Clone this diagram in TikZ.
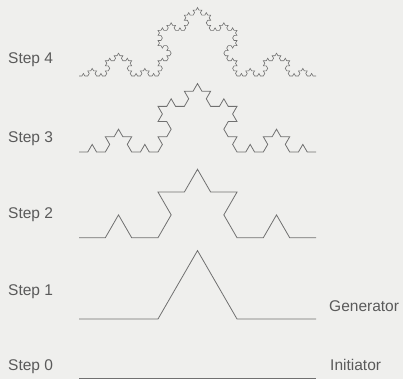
\documentclass[tikz,border=0pt]{standalone}
\usepackage{fontspec}
\setmainfont{Liberation Sans}
\usetikzlibrary{lindenmayersystems}
\pgfdeclarelindenmayersystem{kochcurve}{\rule{F -> F+F--F+F}}
\definecolor{bgc}{HTML}{EFEFED}
\definecolor{linec}{HTML}{707070}
\definecolor{textc}{HTML}{5A5A5A}
\tikzset{
  kochline/.style={draw=linec, line width=0.8pt, line join=miter},
  steplabel/.style={anchor=base west, inner sep=0pt, text=textc, font=\fontsize{15.5}{18}\selectfont}
}
\begin{document}
\begin{tikzpicture}[x=1pt,y=1pt]
\fill[bgc] (0,0) rectangle (403,379);
\useasboundingbox (0,0) rectangle (403,379);
% labels
\node[steplabel] (s4) at (8,315.7) {Step 4};
\node[steplabel] (s3) at (8,236.3) {Step 3};
\node[steplabel] (s2) at (8,160.7) {Step 2};
\node[steplabel] (s1) at (8,83) {Step 1};
\node[steplabel] (s0) at (8,9) {Step 0};
\node[steplabel] (gen) at (329,67.3) {Generator};
\node[steplabel] (ini) at (330,9) {Initiator};
% step 0
\coordinate (a0) at (79,1);
\coordinate (b0) at (316,1);
\draw[kochline] (a0) -- (b0);
% step 1
\begin{scope}[shift={(79,60)}]
\draw[kochline, lindenmayer system={kochcurve, axiom=F, order=1, step=79pt, angle=60}] (0,0) lindenmayer system;
\end{scope}
% step 2
\begin{scope}[shift={(79,141.3)}]
\draw[kochline, lindenmayer system={kochcurve, axiom=F, order=2, step=26.3333pt, angle=60}] (0,0) lindenmayer system;
\end{scope}
% step 3
\begin{scope}[shift={(79,227)}]
\draw[kochline, lindenmayer system={kochcurve, axiom=F, order=3, step=8.7778pt, angle=60}] (0,0) lindenmayer system;
\end{scope}
% step 4
\begin{scope}[shift={(79,303)}]
\draw[kochline, line width=0.6pt, lindenmayer system={kochcurve, axiom=F, order=4, step=2.9259pt, angle=60}] (0,0) lindenmayer system;
\end{scope}
\end{tikzpicture}
\end{document}
